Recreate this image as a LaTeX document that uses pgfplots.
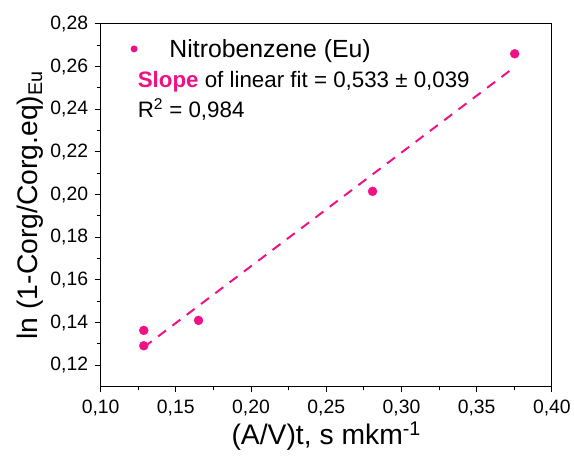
\documentclass[border=0pt]{standalone}
\usepackage{fontspec}
\setmainfont{Liberation Sans}
\usepackage{pgfplots}
\pgfplotsset{compat=1.18}
\definecolor{mag}{RGB}{238,18,132}
\begin{document}
\begin{tikzpicture}
\begin{axis}[
  scale only axis,
  width=453bp, height=364bp,
  xmin=0.10, xmax=0.40, ymin=0.11, ymax=0.28,
  xtick={0.10,0.15,...,0.40},
  ytick={0.12,0.14,...,0.28},
  minor x tick num=1, minor y tick num=1,
  tick pos=left, tick align=outside,
  major tick length=6bp, minor tick length=4bp,
  axis line style={line width=0.9pt},
  every tick/.style={black, line width=0.9pt},
  /pgf/number format/assume math mode=true,
  /pgf/number format/use comma,
  /pgf/number format/fixed,
  /pgf/number format/fixed zerofill,
  /pgf/number format/precision=2,
  tick label style={font=\fontsize{19.5}{23}\selectfont},
  xticklabel style={yshift=-4bp},
  yticklabel style={xshift=-3bp},
  label style={font=\fontsize{28.5}{32}\selectfont},
  xlabel={(A/V)t, s mkm\textsuperscript{-1}},
  ylabel={ln (1-Corg/Corg.eq)\textsubscript{Eu}},
  xlabel style={at={(axis description cs:0.5,-0.137)}, anchor=center},
  ylabel style={at={(axis description cs:-0.157,0.5)}, anchor=center},
  legend style={draw=none, fill=none, at={(rel axis cs:0.066,0.931)}, anchor=west,
    font=\fontsize{25}{29}\selectfont, inner xsep=0pt,
    nodes={inner xsep=3.5bp}},
  legend image code/.code={
    \path[draw=none] (0bp,0bp) -- (32bp,0bp);
    \fill[mag, draw=none] (0bp,0bp) circle[radius=3.5bp];
  },
  legend cell align=left,
]
\addplot[only marks, mark=*, mark size=4.5bp, color=mag] coordinates {
  (0.1287,0.1363) (0.1287,0.1291) (0.1651,0.1410) (0.2808,0.2015) (0.3753,0.2660)
};
\addlegendentry{Nitrobenzene (Eu)}
\addplot[mag, line width=2pt, dash pattern=on 10bp off 8bp, forget plot] coordinates {
  (0.1287,0.1284) (0.3753,0.2598)
};
\node[anchor=west, inner sep=0pt, font=\fontsize{22.5}{26}\selectfont] at (rel axis cs:0.082,0.841)
  {\textcolor{mag}{\textbf{Slope}} of linear fit = 0,533 ± 0,039};
\node[anchor=west, inner sep=0pt, font=\fontsize{22.5}{26}\selectfont] at (rel axis cs:0.082,0.764)
  {R\textsuperscript{2} = 0,984};
\end{axis}
\path ([xshift=-101bp,yshift=-75bp]current axis.south west) rectangle ([xshift=20bp,yshift=24bp]current axis.north east);
\end{tikzpicture}
\end{document}
